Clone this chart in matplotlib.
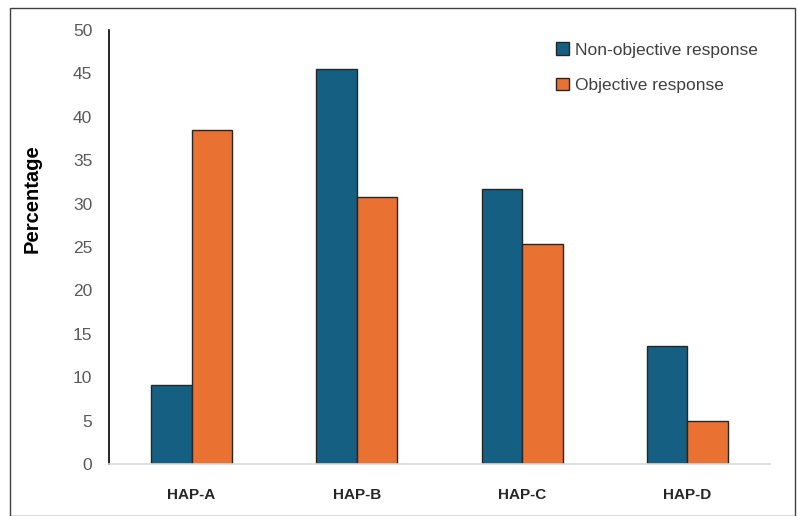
import numpy as np
import matplotlib.pyplot as plt
from matplotlib.patches import Rectangle

plt.rcParams['font.family'] = ['Liberation Sans', 'DejaVu Sans']

categories = ['HAP-A', 'HAP-B', 'HAP-C', 'HAP-D']
non_objective = [9.09, 45.45, 31.7, 13.64]
objective = [38.46, 30.77, 25.4, 5.0]
yticks = [0, 5, 10, 15, 20, 25, 30, 35, 40, 45, 50]

blue = '#156082'
orange = '#E97132'

fig = plt.figure(figsize=(7.98, 5.16), dpi=100)
ax = fig.add_axes([109 / 798, 1 - 464 / 516, 661 / 798, 434 / 516])

x = np.arange(len(categories)) + 0.5
w = 0.245
ax.bar(x - w / 2, non_objective, w, color=blue, edgecolor='#262626', linewidth=1,
       label='Non-objective response')
ax.bar(x + w / 2, objective, w, color=orange, edgecolor='#262626', linewidth=1,
       label='Objective response')

ax.set_xlim(0, 4)
ax.set_ylim(0, 50)
ax.set_yticks(yticks)
ax.set_xticks(x)
ax.set_xticklabels(categories, fontsize=11, fontweight='bold', color='#262626')
ax.tick_params(axis='y', length=0, labelsize=12.5, labelcolor='#595959', pad=12)
ax.tick_params(axis='x', length=0, pad=17)

for side in ['top', 'right']:
    ax.spines[side].set_visible(False)
ax.spines['left'].set_color('black')
ax.spines['left'].set_linewidth(1.2)
ax.spines['bottom'].set_color('#d9d9d9')
ax.spines['bottom'].set_linewidth(1.2)

# axis title sits a bit above the axis middle
fig.text(32 / 798, 1 - 199 / 516, 'Percentage', rotation=90, ha='center', va='center',
         fontsize=14.5, fontweight='bold', color='black')

leg = ax.legend(loc='upper right', bbox_to_anchor=(1.0, 1.0), frameon=False,
                fontsize=12.5, labelspacing=1.15, handlelength=0.75, handleheight=0.75,
                handletextpad=0.35, labelcolor='#404040', borderaxespad=0.3)

# outer frame around the whole figure
fig.patches.append(Rectangle((10 / 798, 0), 785 / 798, 1 - 8 / 516,
                             transform=fig.transFigure, fill=False,
                             edgecolor='#404040', linewidth=1))

fig.savefig('out.png', dpi=100)
